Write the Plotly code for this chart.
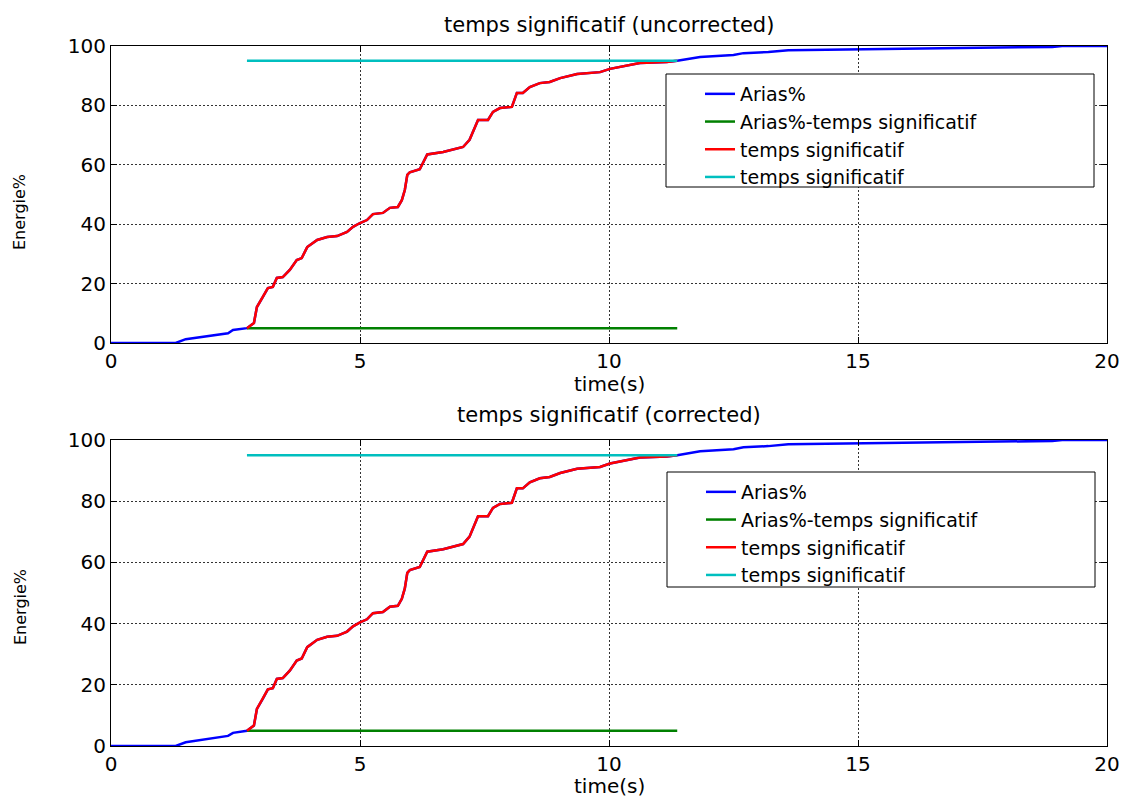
import plotly.graph_objects as go

# ---- data ----
time_s = [0, 1.3, 1.5, 1.8, 2.0, 2.35, 2.45, 2.65, 2.73, 2.87, 2.93, 3.05, 3.15, 3.25, 3.33,
          3.45, 3.59, 3.73, 3.83, 3.94, 4.14, 4.34, 4.54, 4.74, 4.86, 5.0, 5.14, 5.26, 5.46,
          5.6, 5.76, 5.84, 5.9, 5.95, 6.0, 6.2, 6.35, 6.67, 7.07, 7.2, 7.37, 7.57, 7.67, 7.81,
          8.05, 8.15, 8.27, 8.41, 8.61, 8.81, 9.02, 9.36, 9.82, 10.02, 10.22, 10.62, 11.16,
          11.37, 11.83, 12.5, 12.7, 13.2, 13.6, 15.0, 17.0, 18.9, 19.1, 20.0]
arias_uncorr = [0, 0, 1.3, 2.0, 2.7, 3.3, 4.4, 4.7, 5.0, 6.7, 12.1, 15.5, 18.5, 18.9, 21.9,
                22.2, 24.6, 27.9, 28.6, 32.3, 34.7, 35.7, 36.0, 37.4, 39.1, 40.4, 41.4, 43.4, 43.8,
                45.5, 45.8, 48.1, 51.5, 56.6, 57.5, 58.5, 63.5, 64.3, 66.0, 68.4, 75.1, 75.1, 77.8, 79.1,
                79.5, 84.2, 84.2, 86.2, 87.5, 87.9, 89.2, 90.6, 91.2, 92.3, 92.9, 94.3, 94.6,
                95.0, 96.3, 97.0, 97.6, 98.0, 98.6, 98.9, 99.4, 99.7, 100, 100]
arias_corr = [0, 0, 1.2, 1.9, 2.6, 3.3, 4.3, 4.7, 5.0, 6.7, 12.1, 15.5, 18.5, 18.9, 21.9,
              22.2, 24.6, 27.9, 28.6, 32.3, 34.7, 35.7, 36.0, 37.4, 39.1, 40.4, 41.4, 43.4, 43.8,
              45.5, 45.8, 48.1, 51.5, 56.6, 57.5, 58.5, 63.5, 64.3, 66.0, 68.4, 75.1, 75.1, 77.8, 79.1,
              79.5, 84.2, 84.2, 86.2, 87.5, 87.9, 89.2, 90.6, 91.2, 92.3, 92.9, 94.3, 94.6,
              95.0, 96.3, 97.0, 97.6, 98.0, 98.6, 98.9, 99.4, 99.7, 100, 100]
t5, t95 = 2.73, 11.37
lvl5, lvl95 = 5, 95
x_ticks = [0, 5, 10, 15, 20]
y_ticks = [0, 20, 40, 60, 80, 100]
panel_titles = ["temps significatif (uncorrected)", "temps significatif (corrected)"]
legend_names = ["Arias%", "Arias%-temps significatif", "temps significatif", "temps significatif"]
x_title = "time(s)"
y_title = "Energie%"

# ---- layout geometry (page pixels) ----
W, H = 1126, 797
def px(x): return x / W
def py(y): return 1 - y / H

panels = [
    dict(xa="x", ya="y", top=46, bot=343, legend="legend", box=(666, 74, 1094, 187),
         title_y=25, xlab_y=384, ylab_y=212),
    dict(xa="x2", ya="y2", top=440, bot=746, legend="legend2", box=(667, 472, 1095, 587),
         title_y=415, xlab_y=786, ylab_y=607),
]
colors = ["#0000FF", "#008000", "#FF0000", "#00BFBF"]
FONT = "DejaVu Sans"

fig = go.Figure()
shapes, annotations = [], []
layout_axes = {}
for i, (p, arias) in enumerate(zip(panels, [arias_uncorr, arias_corr])):
    red_t = [t for t in time_s if t5 <= t <= t95]
    red_e = [e for t, e in zip(time_s, arias) if t5 <= t <= t95]
    series = [
        (time_s, arias),
        ([t5, t95], [lvl5, lvl5]),
        (red_t, red_e),
        ([t5, t95], [lvl95, lvl95]),
    ]
    for (xs, ys), name, c in zip(series, legend_names, colors):
        fig.add_trace(go.Scatter(x=xs, y=ys, mode="lines", name=name,
                                 line=dict(color=c, width=2.5),
                                 xaxis=p["xa"], yaxis=p["ya"], legend=p["legend"]))
    suffix = "" if i == 0 else "2"
    common = dict(showline=True, linecolor="black", linewidth=1, mirror="ticks",
                  ticks="inside", ticklen=6, tickcolor="black", automargin=False,
                  showgrid=True, gridcolor="#333333", griddash="2px,2px", gridwidth=1,
                  zeroline=False, tickfont=dict(family=FONT, size=20, color="black"))
    layout_axes["xaxis" + suffix] = dict(common, domain=[px(111), px(1107)], range=[0, 20],
                                         tickvals=x_ticks, anchor="y" + suffix)
    layout_axes["yaxis" + suffix] = dict(common, domain=[py(p["bot"]), py(p["top"])],
                                         range=[0, 100], tickvals=y_ticks, anchor="x" + suffix)
    x0, y0, x1, y1 = p["box"]
    shapes.append(dict(type="rect", xref="paper", yref="paper", x0=px(x0), x1=px(x1),
                       y0=py(y1), y1=py(y0), fillcolor="white",
                       line=dict(color="black", width=1), layer="above"))
    layout_axes[p["legend"]] = dict(x=px(x0 + 34), y=py(y0 + 1), xanchor="left", yanchor="top",
                                    bgcolor="rgba(0,0,0,0)", borderwidth=0,
                                    font=dict(family=FONT, size=19, color="black"),
                                    tracegroupgap=0)
    annotations.append(dict(text=panel_titles[i], xref="paper", yref="paper",
                            x=px(609), y=py(p["title_y"]), showarrow=False,
                            xanchor="center", yanchor="middle",
                            font=dict(family=FONT, size=21, color="black")))
    annotations.append(dict(text=x_title, xref="paper", yref="paper",
                            x=px(609), y=py(p["xlab_y"]), showarrow=False,
                            xanchor="center", yanchor="middle",
                            font=dict(family=FONT, size=20, color="black")))
    annotations.append(dict(text=y_title, xref="paper", yref="paper",
                            x=px(20), y=py(p["ylab_y"]), showarrow=False, textangle=-90,
                            xanchor="center", yanchor="middle",
                            font=dict(family=FONT, size=16, color="black")))

fig.update_layout(width=W, height=H, autosize=False,
                  margin=dict(l=0, r=0, t=0, b=0, autoexpand=False),
                  paper_bgcolor="white", plot_bgcolor="white",
                  shapes=shapes, annotations=annotations, **layout_axes)
fig.write_html("out.html", config={"displayModeBar": False},
               post_script="document.body.style.margin='0';document.body.style.overflow='hidden';")
